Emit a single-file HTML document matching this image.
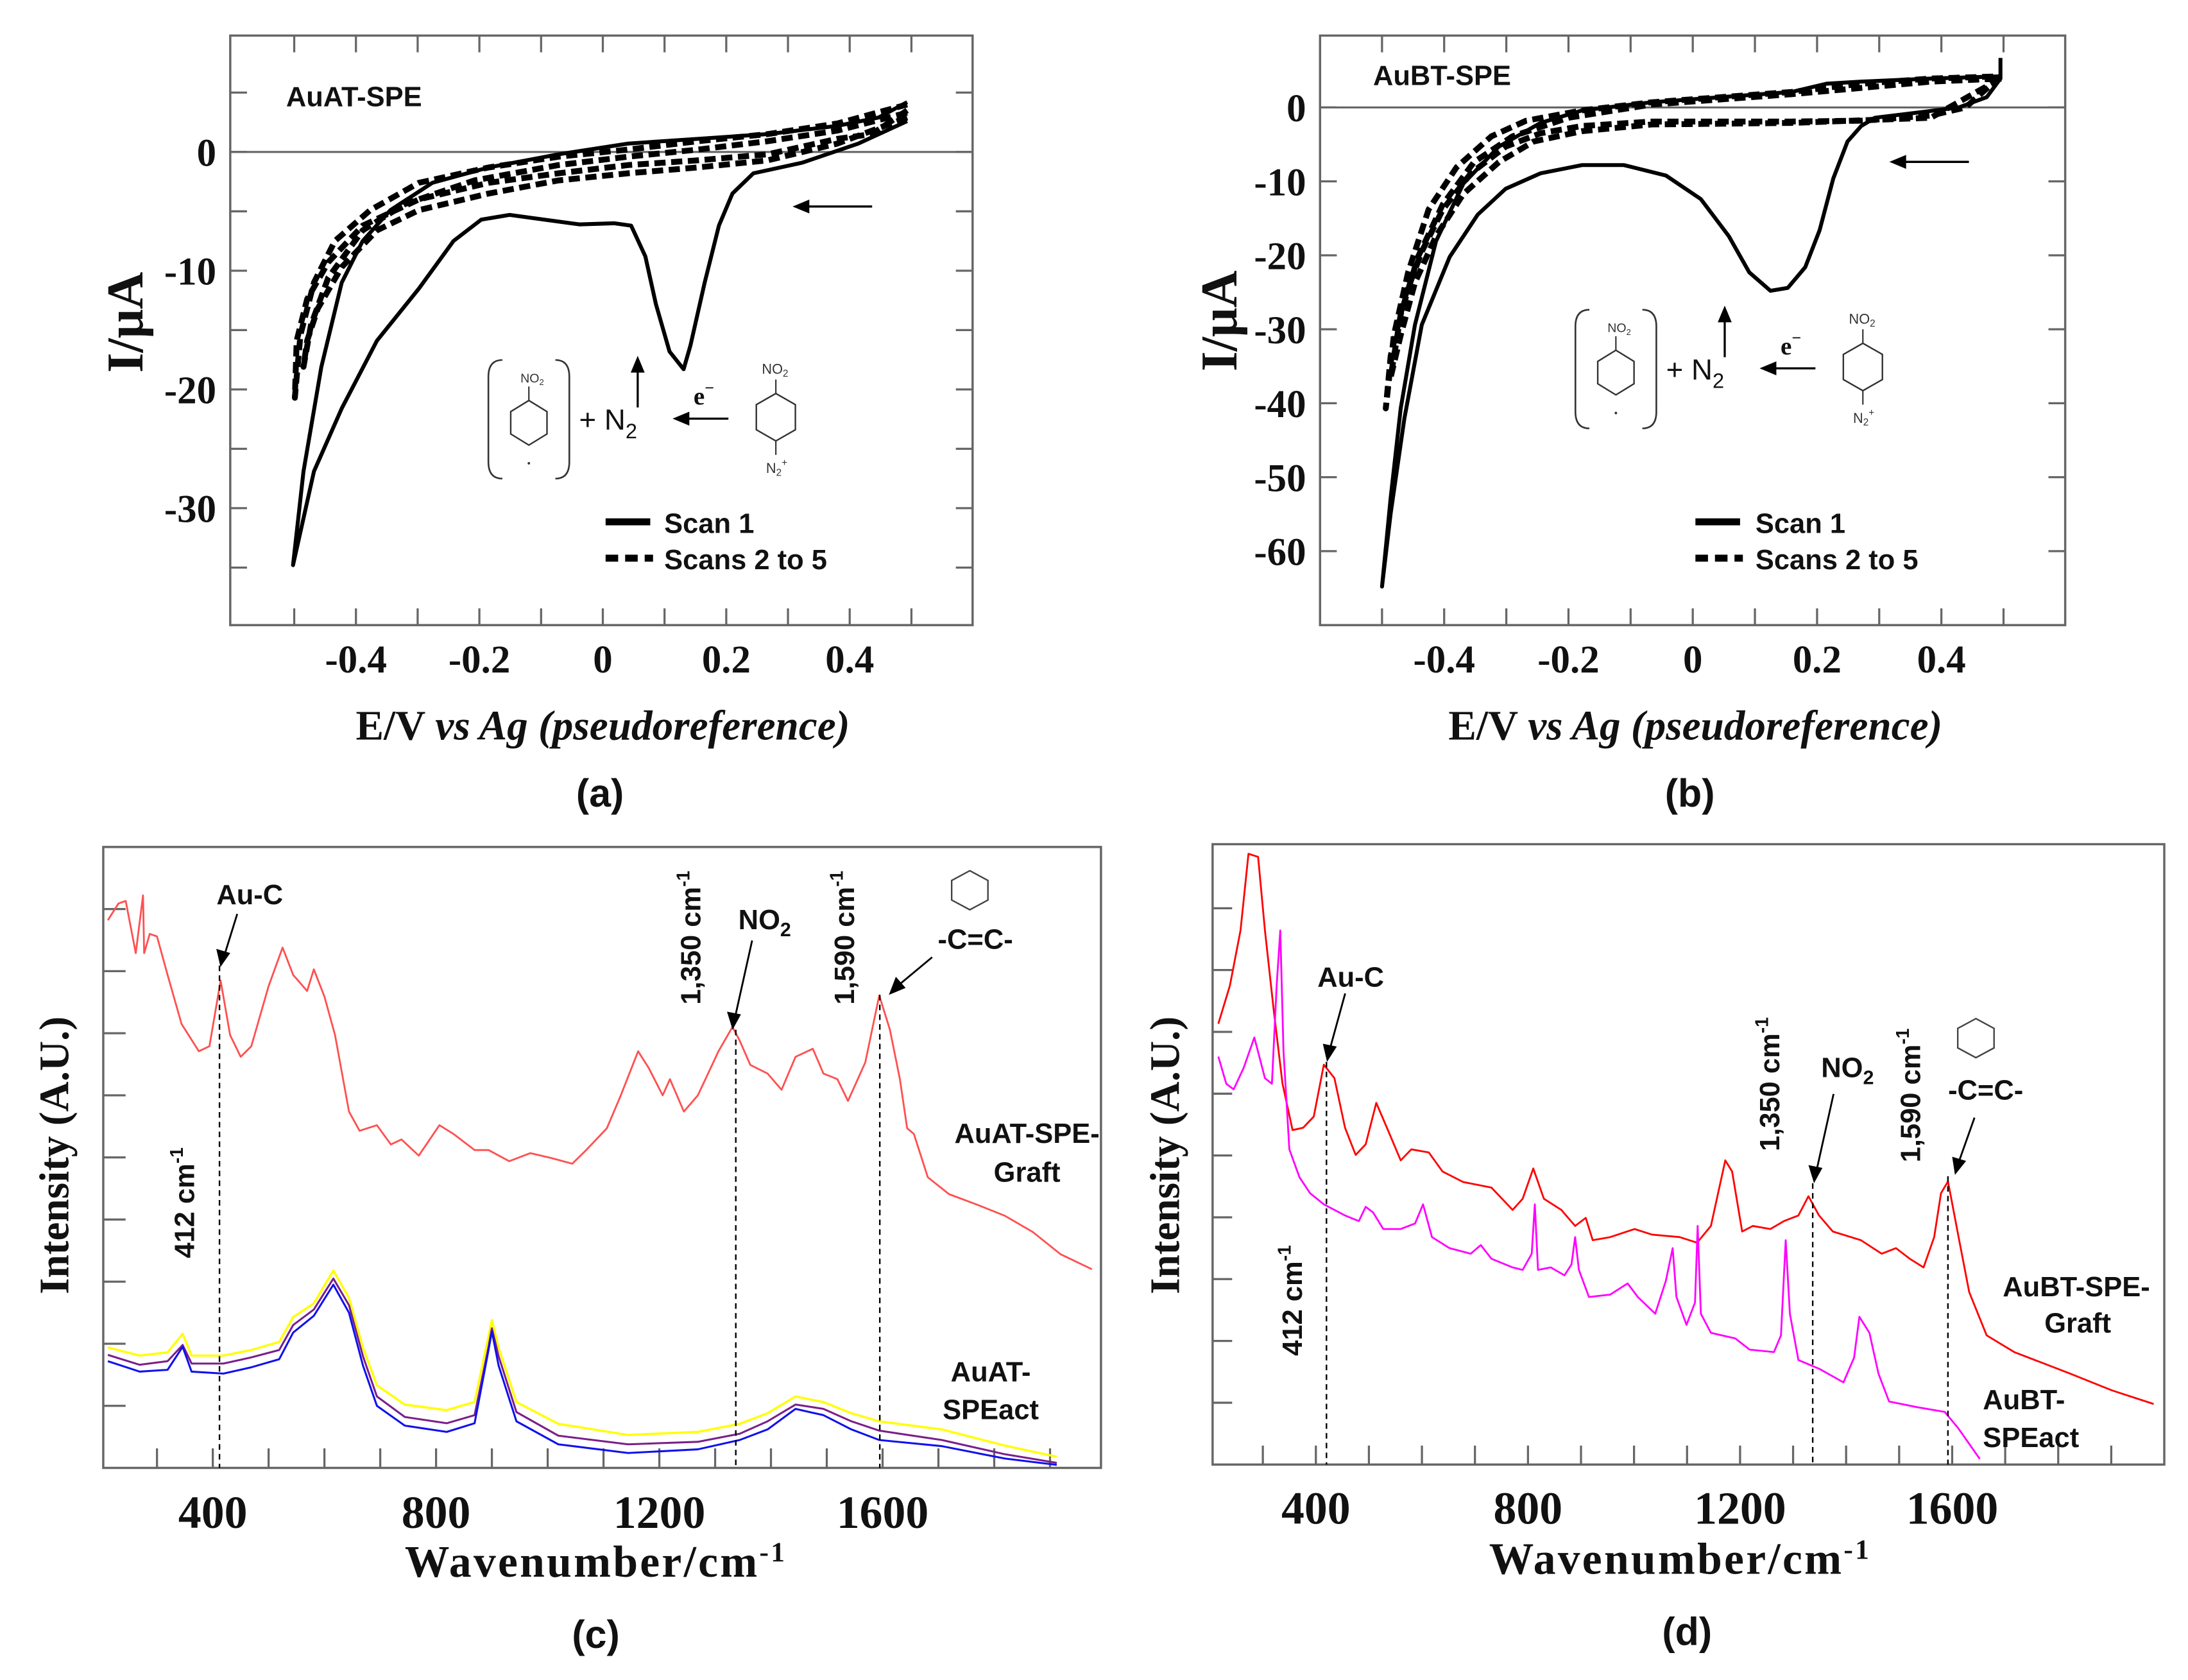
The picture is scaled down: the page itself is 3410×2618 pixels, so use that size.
<!DOCTYPE html>
<html><head><meta charset="utf-8"><style>
html,body{margin:0;padding:0;background:#fff;}
svg{display:block;}
.tk{font-family:"Liberation Serif",serif;font-weight:bold;font-size:28px;fill:#111;}
.tk2{font-family:"Liberation Serif",serif;font-weight:bold;font-size:33px;fill:#111;}
.ann{font-family:"Liberation Sans",sans-serif;font-weight:bold;font-size:20px;fill:#111;}
.ttl{font-family:"Liberation Serif",serif;font-weight:bold;fill:#111;}
.cap{font-family:"Liberation Sans",sans-serif;font-weight:bold;font-size:28px;fill:#111;}
</style></head><body>
<svg id="fig" xmlns="http://www.w3.org/2000/svg" width="3410" height="2618" viewBox="0 0 1568 1204" preserveAspectRatio="none">
<rect x="0" y="0" width="1568" height="1204" fill="#fff"/>

<!-- Panel a -->
<g id="pa">
<rect x="165" y="25.5" width="532" height="422.5" fill="none" stroke="#666" stroke-width="1.6"/>
<line x1="165" x2="697" y1="108.9" y2="108.9" stroke="#666" stroke-width="1.4"/>
<g id="ticksA"></g>
<g id="curvesA"></g>
<text class="ann" x="205" y="76">AuAT-SPE</text>
<g><line x1="625" y1="148" x2="578" y2="148" stroke="#000" stroke-width="1.6"/><polygon points="568,148 580,143 580,153" fill="#000"/></g>
<g>
<path d="M360,258 Q350,258 350,270 L350,331 Q350,343 360,343" fill="none" stroke="#333" stroke-width="1.2"/>
<path d="M398,258 Q408,258 408,270 L408,331 Q408,343 398,343" fill="none" stroke="#333" stroke-width="1.2"/>
<text x="373" y="274" font-family="Liberation Sans,sans-serif" font-size="9" fill="#333">NO<tspan font-size="6" dy="2">2</tspan></text>
<line x1="379" y1="277" x2="379" y2="287" stroke="#333"/>
<polygon points="379,287 392,295 392,311 379,319 366,311 366,295" fill="none" stroke="#333" stroke-width="1.1"/>
<circle cx="379" cy="332" r="0.9" fill="#333"/>
<text x="415" y="308" font-family="Liberation Sans,sans-serif" font-size="21" fill="#111">+ N<tspan font-size="15" dy="6">2</tspan></text>
<line x1="457" y1="292" x2="457" y2="265" stroke="#000" stroke-width="1.5"/><polygon points="457,255 452,267 462,267" fill="#000"/>
<text class="ttl" x="497" y="290" font-size="18">e<tspan font-size="12" dy="-8">−</tspan></text>
<line x1="522" y1="300" x2="492" y2="300" stroke="#000" stroke-width="1.5"/><polygon points="482,300 494,295 494,305" fill="#000"/>
<text x="546" y="268" font-family="Liberation Sans,sans-serif" font-size="10" fill="#333">NO<tspan font-size="7" dy="2">2</tspan></text>
<line x1="556" y1="272" x2="556" y2="282" stroke="#333"/>
<polygon points="556,282 570,290 570,308 556,316 542,308 542,290" fill="none" stroke="#333" stroke-width="1.1"/>
<line x1="556" y1="316" x2="556" y2="326" stroke="#333"/>
<text x="549" y="339" font-family="Liberation Sans,sans-serif" font-size="10" fill="#333">N<tspan font-size="7" dy="2">2</tspan><tspan font-size="7" dy="-7">+</tspan></text>
</g>
<g>
<line x1="434" y1="374" x2="466" y2="374" stroke="#000" stroke-width="5"/>
<text class="ann" x="476" y="382" font-size="21">Scan 1</text>
<line x1="434" y1="400" x2="468" y2="400" stroke="#000" stroke-width="5" stroke-dasharray="9 5"/>
<text class="ann" x="476" y="408" font-size="21">Scans 2 to 5</text>
</g>
<text class="ttl" font-size="37" transform="translate(102,231) rotate(-90)" text-anchor="middle">I/μA</text>
<text class="ttl" font-size="30" x="432" y="530" text-anchor="middle">E/V <tspan font-style="italic">vs Ag (pseudoreference)</tspan></text>
<text class="cap" x="430" y="578" text-anchor="middle">(a)</text>
</g>

<!-- Panel b -->
<g id="pb">
<rect x="946" y="25.5" width="534" height="422.5" fill="none" stroke="#666" stroke-width="1.6"/>
<line x1="946" x2="1480" y1="77" y2="77" stroke="#666" stroke-width="1.4"/>
<g id="ticksB"></g>
<g id="curvesB"></g>
<text class="ann" x="984" y="61">AuBT-SPE</text>
<g><line x1="1411" y1="116" x2="1364" y2="116" stroke="#000" stroke-width="1.6"/><polygon points="1354,116 1366,111 1366,121" fill="#000"/></g>
<g transform="translate(779,-36)">
<path d="M360,258 Q350,258 350,270 L350,331 Q350,343 360,343" fill="none" stroke="#333" stroke-width="1.2"/>
<path d="M398,258 Q408,258 408,270 L408,331 Q408,343 398,343" fill="none" stroke="#333" stroke-width="1.2"/>
<text x="373" y="274" font-family="Liberation Sans,sans-serif" font-size="9" fill="#333">NO<tspan font-size="6" dy="2">2</tspan></text>
<line x1="379" y1="277" x2="379" y2="287" stroke="#333"/>
<polygon points="379,287 392,295 392,311 379,319 366,311 366,295" fill="none" stroke="#333" stroke-width="1.1"/>
<circle cx="379" cy="332" r="0.9" fill="#333"/>
<text x="415" y="308" font-family="Liberation Sans,sans-serif" font-size="21" fill="#111">+ N<tspan font-size="15" dy="6">2</tspan></text>
<line x1="457" y1="292" x2="457" y2="265" stroke="#000" stroke-width="1.5"/><polygon points="457,255 452,267 462,267" fill="#000"/>
<text class="ttl" x="497" y="290" font-size="18">e<tspan font-size="12" dy="-8">−</tspan></text>
<line x1="522" y1="300" x2="492" y2="300" stroke="#000" stroke-width="1.5"/><polygon points="482,300 494,295 494,305" fill="#000"/>
<text x="546" y="268" font-family="Liberation Sans,sans-serif" font-size="10" fill="#333">NO<tspan font-size="7" dy="2">2</tspan></text>
<line x1="556" y1="272" x2="556" y2="282" stroke="#333"/>
<polygon points="556,282 570,290 570,308 556,316 542,308 542,290" fill="none" stroke="#333" stroke-width="1.1"/>
<line x1="556" y1="316" x2="556" y2="326" stroke="#333"/>
<text x="549" y="339" font-family="Liberation Sans,sans-serif" font-size="10" fill="#333">N<tspan font-size="7" dy="2">2</tspan><tspan font-size="7" dy="-7">+</tspan></text>
</g>
<g>
<line x1="1215" y1="374" x2="1247" y2="374" stroke="#000" stroke-width="5"/>
<text class="ann" x="1258" y="382" font-size="21">Scan 1</text>
<line x1="1215" y1="400" x2="1249" y2="400" stroke="#000" stroke-width="5" stroke-dasharray="9 5"/>
<text class="ann" x="1258" y="408" font-size="21">Scans 2 to 5</text>
</g>
<text class="ttl" font-size="37" transform="translate(886,230) rotate(-90)" text-anchor="middle">I/μA</text>
<text class="ttl" font-size="30" x="1215" y="530" text-anchor="middle">E/V <tspan font-style="italic">vs Ag (pseudoreference)</tspan></text>
<text class="cap" x="1211" y="578" text-anchor="middle">(b)</text>
</g>

<!-- Panel c -->
<g id="pc">
<rect x="74" y="607" width="715" height="445" fill="none" stroke="#666" stroke-width="1.6"/>
<g id="ticksC"></g>
<g id="curvesC"></g>
<g id="annC">
<text class="ann" x="179" y="648" text-anchor="middle" font-size="21">Au-C</text>
<line x1="170" y1="655" x2="161" y2="684" stroke="#000" stroke-width="1.3"/><polygon points="158,693 155,680 165,683" fill="#000"/>
<text class="ann" font-size="20" transform="translate(139,862) rotate(-90)" text-anchor="middle">412 cm<tspan font-size="13" dy="-8">-1</tspan></text>
<text class="ann" font-size="20" transform="translate(502,672) rotate(-90)" text-anchor="middle">1,350 cm<tspan font-size="13" dy="-8">-1</tspan></text>
<text class="ann" x="548" y="666" text-anchor="middle" font-size="21">NO<tspan font-size="14" dy="5">2</tspan></text>
<line x1="539" y1="674" x2="527" y2="728" stroke="#000" stroke-width="1.3"/><polygon points="525,738 521,725 531,727" fill="#000"/>
<text class="ann" font-size="20" transform="translate(612,672) rotate(-90)" text-anchor="middle">1,590 cm<tspan font-size="13" dy="-8">-1</tspan></text>
<polygon points="695,624 708,631 708,645 695,652 682,645 682,631" fill="none" stroke="#444" stroke-width="1.1"/>
<text class="ann" x="699" y="680" text-anchor="middle" font-size="20">-C=C-</text>
<line x1="668" y1="686" x2="644" y2="706" stroke="#000" stroke-width="1.3"/><polygon points="637,713 642,700 649,708" fill="#000"/>
<text class="ann" x="736" y="819" text-anchor="middle" font-size="20">AuAT-SPE-</text>
<text class="ann" x="736" y="847" text-anchor="middle" font-size="20">Graft</text>
<text class="ann" x="710" y="990" text-anchor="middle" font-size="20">AuAT-</text>
<text class="ann" x="710" y="1017" text-anchor="middle" font-size="20">SPEact</text>
</g>
<text class="ttl" font-size="30" transform="translate(49,828) rotate(-90)" text-anchor="middle">Intensity (A.U.)</text>
<text class="ttl" font-size="32" x="427" y="1130" text-anchor="middle" letter-spacing="1.5">Wavenumber/cm<tspan font-size="20" dy="-11">-1</tspan></text>
<text class="cap" x="427" y="1181" text-anchor="middle">(c)</text>
</g>

<!-- Panel d -->
<g id="pd">
<rect x="869" y="605" width="682" height="444.6" fill="none" stroke="#666" stroke-width="1.6"/>
<g id="ticksD"></g>
<g id="curvesD"></g>
<g id="annD">
<text class="ann" x="968" y="707" text-anchor="middle" font-size="21">Au-C</text>
<line x1="964" y1="712" x2="953" y2="752" stroke="#000" stroke-width="1.3"/><polygon points="951,761 948,748 958,750" fill="#000"/>
<text class="ann" font-size="20" transform="translate(933,932) rotate(-90)" text-anchor="middle">412 cm<tspan font-size="13" dy="-8">-1</tspan></text>
<text class="ann" font-size="20" transform="translate(1275,777) rotate(-90)" text-anchor="middle">1,350 cm<tspan font-size="13" dy="-8">-1</tspan></text>
<text class="ann" x="1324" y="772" text-anchor="middle" font-size="21">NO<tspan font-size="14" dy="5">2</tspan></text>
<line x1="1314" y1="784" x2="1302" y2="838" stroke="#000" stroke-width="1.3"/><polygon points="1300,848 1296,835 1306,837" fill="#000"/>
<text class="ann" font-size="20" transform="translate(1376,785) rotate(-90)" text-anchor="middle">1,590 cm<tspan font-size="13" dy="-8">-1</tspan></text>
<polygon points="1416,730 1429,737 1429,751 1416,758 1403,751 1403,737" fill="none" stroke="#444" stroke-width="1.1"/>
<text class="ann" x="1423" y="788" text-anchor="middle" font-size="20">-C=C-</text>
<line x1="1415" y1="801" x2="1404" y2="832" stroke="#000" stroke-width="1.3"/><polygon points="1401,842 1399,829 1409,832" fill="#000"/>
<text class="ann" x="1488" y="929" text-anchor="middle" font-size="20">AuBT-SPE-</text>
<text class="ann" x="1489" y="955" text-anchor="middle" font-size="20">Graft</text>
<text class="ann" x="1421" y="1010" font-size="20">AuBT-</text>
<text class="ann" x="1421" y="1037" font-size="20">SPEact</text>
</g>
<text class="ttl" font-size="30" transform="translate(845,828) rotate(-90)" text-anchor="middle">Intensity (A.U.)</text>
<text class="ttl" font-size="32" x="1204" y="1128" text-anchor="middle" letter-spacing="1.5">Wavenumber/cm<tspan font-size="20" dy="-11">-1</tspan></text>
<text class="cap" x="1209" y="1179" text-anchor="middle">(d)</text>
</g>
</svg>
<script>
// ---------- Panel (a) data: E (V), I (uA) ----------
const aScan1E=[0.493,0.414,0.323,0.244,0.210,0.188,0.165,0.142,0.131,0.108,0.086,0.069,0.046,0.018,-0.038,-0.095,-0.151,-0.197,-0.242,-0.298,-0.366,-0.423,-0.468,-0.502,-0.485,-0.456,-0.423,-0.389,-0.344,-0.276,-0.185,-0.072,0.041,0.154,0.267,0.380,0.447,0.493];
const aScan1I=[2.6,0.7,-0.9,-1.8,-3.5,-6.2,-11.0,-16.3,-18.3,-16.8,-12.8,-8.8,-6.2,-6.0,-6.1,-5.7,-5.3,-5.7,-7.5,-11.5,-15.9,-21.6,-26.9,-34.8,-26.9,-18.1,-11.0,-7.5,-4.9,-2.6,-1.3,-0.2,0.7,1.1,1.5,2.2,2.9,4.2];
const aDashAE=[0.493,0.436,0.380,0.267,0.154,0.041,-0.072,-0.185,-0.298,-0.389,-0.445,-0.479,-0.496,-0.499,-0.490,-0.468,-0.434,-0.377,-0.298,-0.185,-0.072,0.041,0.154,0.267,0.380,0.493];
const aDashAI=[3.5,1.5,1.1,-0.2,-0.7,-1.1,-1.8,-2.6,-4.0,-6.2,-9.3,-12.4,-15.9,-20.7,-15.4,-11.0,-7.5,-4.9,-2.6,-1.3,-0.4,0.2,0.9,1.5,2.4,4.0];
const aDashBE=[0.493,0.380,0.267,0.154,0.041,-0.072,-0.185,-0.298,-0.366,-0.423,-0.462,-0.479,-0.485,-0.473,-0.445,-0.389,-0.321,-0.208,-0.072,0.041,0.154,0.267,0.380,0.493];
const aDashBI=[2.9,0.7,-0.7,-1.3,-1.8,-2.4,-3.5,-4.9,-6.6,-9.7,-13.2,-15.9,-18.1,-14.6,-10.6,-6.6,-4.4,-2.4,-1.1,-0.4,0.2,0.9,1.8,3.3];
const aYTicks=[0,-10,-20,-30];
const aXTicks=[-0.4,-0.2,0,0.2,0.4];
const aXTickLabels=["-0.4","-0.2","0","0.2","0.4"];

// ---------- Panel (b) data ----------
const bScan1E=[0.495,0.495,0.473,0.428,0.361,0.293,0.271,0.249,0.226,0.204,0.181,0.153,0.125,0.091,0.058,0.013,-0.043,-0.111,-0.178,-0.245,-0.301,-0.346,-0.391,-0.436,-0.464,-0.486,-0.500,-0.486,-0.470,-0.447,-0.413,-0.369,-0.312,-0.245,-0.178,-0.066,0.047,0.159,0.215,0.271,0.383,0.495];
const bScan1I=[6.7,3.9,1.4,0,-0.7,-1.4,-2.5,-4.6,-9.6,-16.6,-21.6,-24.4,-24.8,-22.3,-17.4,-12.4,-9.2,-7.8,-7.8,-8.9,-11.0,-14.5,-20.2,-29.4,-42.1,-54.9,-64.8,-52.8,-40.7,-29.4,-18.1,-10.3,-5.3,-2.1,-0.4,0.7,1.4,2.1,3.2,3.5,3.9,4.2];
const bDashAE=[0.495,0.439,0.383,0.271,0.159,0.047,-0.066,-0.178,-0.245,-0.301,-0.357,-0.402,-0.436,-0.464,-0.486,-0.494,-0.481,-0.458,-0.425,-0.380,-0.324,-0.268,-0.178,-0.066,0.047,0.159,0.271,0.383,0.495];
const bDashAI=[4.2,0,-1.1,-1.8,-1.9,-1.9,-1.9,-2.5,-3.5,-5.3,-8.9,-13.8,-19.5,-25.8,-33.6,-40.7,-30.8,-22.3,-13.8,-8.1,-3.9,-1.8,-0.4,0.7,1.4,2.1,3.2,3.9,4.2];
const bDashBE=[0.495,0.383,0.159,-0.066,-0.178,-0.256,-0.312,-0.369,-0.413,-0.447,-0.470,-0.486,-0.470,-0.442,-0.402,-0.352,-0.290,-0.200,-0.066,0.159,0.383,0.495];
const bDashBI=[3.9,-1.4,-2.1,-2.3,-3.2,-4.6,-7.4,-11.7,-17.4,-23.7,-30.8,-36.5,-28.0,-20.2,-13.1,-7.4,-3.9,-1.4,0.4,1.8,3.5,3.9];
const bYTicks=[0,-10,-20,-30,-40,-50,-60];
const bXTicks=[-0.4,-0.2,0,0.2,0.4];
const bXTickLabels=["-0.4","-0.2","0","0.2","0.4"];

// ---------- Panel (c) data: wavenumber, intensity (a.u.) ----------
const cGraftW=[212,231,244,262,275,277,287,300,319,344,375,394,414,431,450,469,500,525,544,569,581,600,619,644,663,694,719,738,769,806,831,869,894,931,969,1006,1044,1069,1106,1131,1162,1181,1206,1219,1244,1269,1306,1331,1344,1363,1394,1419,1444,1475,1494,1519,1538,1569,1594,1613,1631,1644,1656,1681,1719,1769,1819,1869,1919,1975];
const cGraftV=[8.82,9.09,9.13,8.29,9.22,8.29,8.60,8.56,7.94,7.15,6.71,6.79,7.85,6.97,6.62,6.79,7.76,8.38,7.94,7.68,8.03,7.59,6.97,5.74,5.43,5.52,5.21,5.29,5.03,5.52,5.38,5.12,5.12,4.94,5.07,4.99,4.90,5.12,5.47,6.00,6.71,6.44,6.00,6.26,5.74,6.00,6.71,7.10,6.88,6.49,6.35,6.09,6.62,6.75,6.35,6.26,5.91,6.53,7.61,7.06,6.26,5.47,5.38,4.68,4.41,4.24,4.06,3.80,3.44,3.20];
const cActW=[212,269,319,346,362,419,469,519,544,581,616,644,669,694,744,819,869,894,900,912,944,1019,1144,1269,1344,1394,1444,1494,1544,1594,1706,1819,1912];
const cActYellowV=[1.94,1.81,1.86,2.16,1.81,1.81,1.90,2.03,2.43,2.65,3.18,2.74,1.94,1.33,1.02,0.93,1.06,2.12,2.38,1.94,1.06,0.71,0.53,0.58,0.71,0.88,1.15,1.06,0.88,0.75,0.62,0.36,0.18];
const cActPurpleV=[1.82,1.66,1.72,1.98,1.68,1.68,1.78,1.90,2.30,2.55,3.05,2.62,1.80,1.15,0.82,0.72,0.85,1.95,2.25,1.80,0.90,0.52,0.38,0.42,0.55,0.75,1.02,0.95,0.75,0.60,0.45,0.22,0.08];
const cActBlueV=[1.72,1.55,1.58,1.95,1.55,1.52,1.62,1.75,2.18,2.45,2.95,2.50,1.65,1.00,0.68,0.58,0.72,1.90,2.20,1.65,0.75,0.38,0.24,0.30,0.45,0.62,0.95,0.85,0.62,0.45,0.35,0.15,0.05];
const cMarkers=[412,1337,1595];
const cXTicks=[400,800,1200,1600];

// ---------- Panel (d) data ----------
const dGraftW=[216,238,258,273,291,304,321,337,356,376,396,415,435,455,475,494,514,534,560,580,613,639,678,731,771,790,810,830,863,889,909,922,955,1001,1034,1086,1119,1145,1172,1185,1204,1224,1257,1283,1310,1329,1349,1375,1428,1467,1494,1520,1546,1566,1579,1592,1612,1632,1665,1717,1823,1901,1980];
const dGraftV=[7.13,7.75,8.64,9.88,9.83,8.64,7.31,6.16,5.41,5.45,5.63,6.47,6.25,5.45,5.01,5.18,5.85,5.45,4.92,5.10,5.05,4.74,4.57,4.48,4.12,4.30,4.79,4.30,4.12,3.86,3.99,3.63,3.68,3.81,3.72,3.68,3.59,3.86,4.92,4.74,3.77,3.86,3.81,3.94,4.03,4.34,4.03,3.77,3.63,3.41,3.50,3.33,3.19,3.68,4.39,4.58,3.68,2.79,2.09,1.82,1.47,1.20,0.98];
const dActW=[216,231,245,264,284,304,317,326,333,339,350,369,389,415,455,481,494,508,527,560,587,602,619,652,692,711,731,771,790,807,813,819,843,869,882,889,896,915,955,988,1007,1040,1060,1073,1080,1099,1115,1120,1126,1145,1191,1218,1264,1277,1286,1294,1310,1349,1395,1415,1425,1444,1461,1481,1533,1586,1612,1652];
const dActV=[6.60,6.16,6.07,6.42,6.91,6.25,6.16,7.75,8.64,6.69,5.10,4.65,4.39,4.21,4.03,3.94,4.17,4.08,3.81,3.81,3.90,4.21,3.68,3.50,3.41,3.55,3.33,3.19,3.15,3.41,4.21,3.15,3.19,3.06,3.24,3.68,3.15,2.71,2.75,2.93,2.71,2.44,2.97,3.50,2.71,2.26,2.62,3.86,2.44,2.13,2.04,1.86,1.82,2.09,3.63,2.44,1.69,1.55,1.33,1.73,2.39,2.13,1.47,1.02,0.93,0.85,0.58,0.09];
const dMarkers=[420,1337,1592];
const dXTicks=[400,800,1200,1600];

// ---------- axis functions ----------
const xA=E=>432.0+E*442.3, yA=I=>108.9-I*8.51;
const xB=E=>1213.1+E*445.4, yB=I=>77.0-I*5.30;
const xC=w=>152.5+(w-400)*0.4, yC=v=>1052-v*44.5;
const xD=w=>943+(w-400)*0.38, yD=v=>1049.6-v*44.3;

const NS="http://www.w3.org/2000/svg";
function mk(tag, attrs, parent){const e=document.createElementNS(NS,tag);for(const k in attrs)e.setAttribute(k,attrs[k]);parent.appendChild(e);return e;}
function pathD(xs,ys,fx,fy){return xs.map((x,i)=>(i?"L":"M")+fx(x).toFixed(1)+","+fy(ys[i]).toFixed(1)).join("");}

function series(g,xs,ys,fx,fy,color,w,dash,name){
  const p=mk("path",{d:pathD(xs,ys,fx,fy),fill:"none",stroke:color,"stroke-width":w,"stroke-linejoin":"round"},g);
  if(dash)p.setAttribute("stroke-dasharray",dash);
  
  
}
function tickLine(g,x1,y1,x2,y2){
  const l=mk("line",{x1:x1,y1:y1,x2:x2,y2:y2,stroke:"#666","stroke-width":1.5},g);
  
  
}
function tickText(g,x,y,s,anchor,cls){
  const t=mk("text",{x:x,y:y,"text-anchor":anchor,class:cls||"tk"},g);
  t.textContent=s;
  
  
}

// Panel a
(function(){
  const g=document.getElementById("ticksA");
  for(let k=-5;k<=5;k++){const x=xA(k/10);tickLine(g,x,448,x,436);tickLine(g,x,25.5,x,37.5);}
  for(let k=-35;k<=5;k+=5){const y=yA(k);tickLine(g,165,y,177,y);tickLine(g,697,y,685,y);}
  aYTicks.forEach(v=>tickText(g,155,yA(v)+10,String(v),"end"));
  aXTicks.forEach((v,i)=>tickText(g,xA(v),482,aXTickLabels[i],"middle"));
  const c=document.getElementById("curvesA");
  series(c,aDashAE,aDashAI,xA,yA,"#000",4.2,"8 4","scans-2-5-a-cycle1");
  series(c,aDashBE,aDashBI,xA,yA,"#000",4.2,"8 4","scans-2-5-a-cycle2");
  series(c,aScan1E,aScan1I,xA,yA,"#000",2.8,null,"scan-1-a");
})();
// Panel b
(function(){
  const g=document.getElementById("ticksB");
  for(let k=-5;k<=5;k++){const x=xB(k/10);tickLine(g,x,448,x,436);tickLine(g,x,25.5,x,37.5);}
  bYTicks.forEach(v=>{const y=yB(v);tickLine(g,946,y,958,y);tickLine(g,1480,y,1468,y);});
  bYTicks.forEach(v=>tickText(g,936,yB(v)+10,String(v),"end"));
  bXTicks.forEach((v,i)=>tickText(g,xB(v),482,bXTickLabels[i],"middle"));
  const c=document.getElementById("curvesB");
  series(c,bDashAE,bDashAI,xB,yB,"#000",4.2,"8 4","scans-2-5-b-cycle1");
  series(c,bDashBE,bDashBI,xB,yB,"#000",4.2,"8 4","scans-2-5-b-cycle2");
  series(c,bScan1E,bScan1I,xB,yB,"#000",2.8,null,"scan-1-b");
})();
// Panel c
(function(){
  const g=document.getElementById("ticksC");
  for(let v=1;v<=9;v++){const y=yC(v);tickLine(g,74,y,90,y);}
  for(let w=300;w<=1900;w+=100){const x=xC(w);tickLine(g,x,1052,x,1038);}
  cXTicks.forEach(v=>tickText(g,xC(v),1095,String(v),"middle","tk2"));
  const c=document.getElementById("curvesC");
  series(c,cGraftW,cGraftV,xC,yC,"#ff5050",1.3,null,"spectrum-auat-spe-graft");
  series(c,cActW,cActYellowV,xC,yC,"#ffff00",1.6,null,"spectrum-auat-speact-yellow");
  series(c,cActW,cActPurpleV,xC,yC,"#7a1f8a",1.4,null,"spectrum-auat-speact-purple");
  series(c,cActW,cActBlueV,xC,yC,"#1010ee",1.4,null,"spectrum-auat-speact-blue");
  cMarkers.forEach(w=>{const l=mk("line",{x1:xC(w),x2:xC(w),y1:w<1000?692:(w<1500?738:713),y2:1052,stroke:"#000","stroke-width":1.1,"stroke-dasharray":"4 3"},c);
    
    });
})();
// Panel d
(function(){
  const g=document.getElementById("ticksD");
  for(let v=1;v<=9;v++){const y=yD(v);tickLine(g,869,y,883,y);}
  for(let w=300;w<=1900;w+=100){const x=xD(w);tickLine(g,x,1049.6,x,1036);}
  dXTicks.forEach(v=>tickText(g,xD(v),1092,String(v),"middle","tk2"));
  const c=document.getElementById("curvesD");
  series(c,dGraftW,dGraftV,xD,yD,"#ff0000",1.3,null,"spectrum-aubt-spe-graft");
  series(c,dActW,dActV,xD,yD,"#ff00ff",1.3,null,"spectrum-aubt-speact");
  dMarkers.forEach(w=>{const l=mk("line",{x1:xD(w),x2:xD(w),y1:w<1000?761:(w<1500?848:843),y2:1049.6,stroke:"#000","stroke-width":1.1,"stroke-dasharray":"4 3"},c);
    
    });
})();
</script>
</body></html>
